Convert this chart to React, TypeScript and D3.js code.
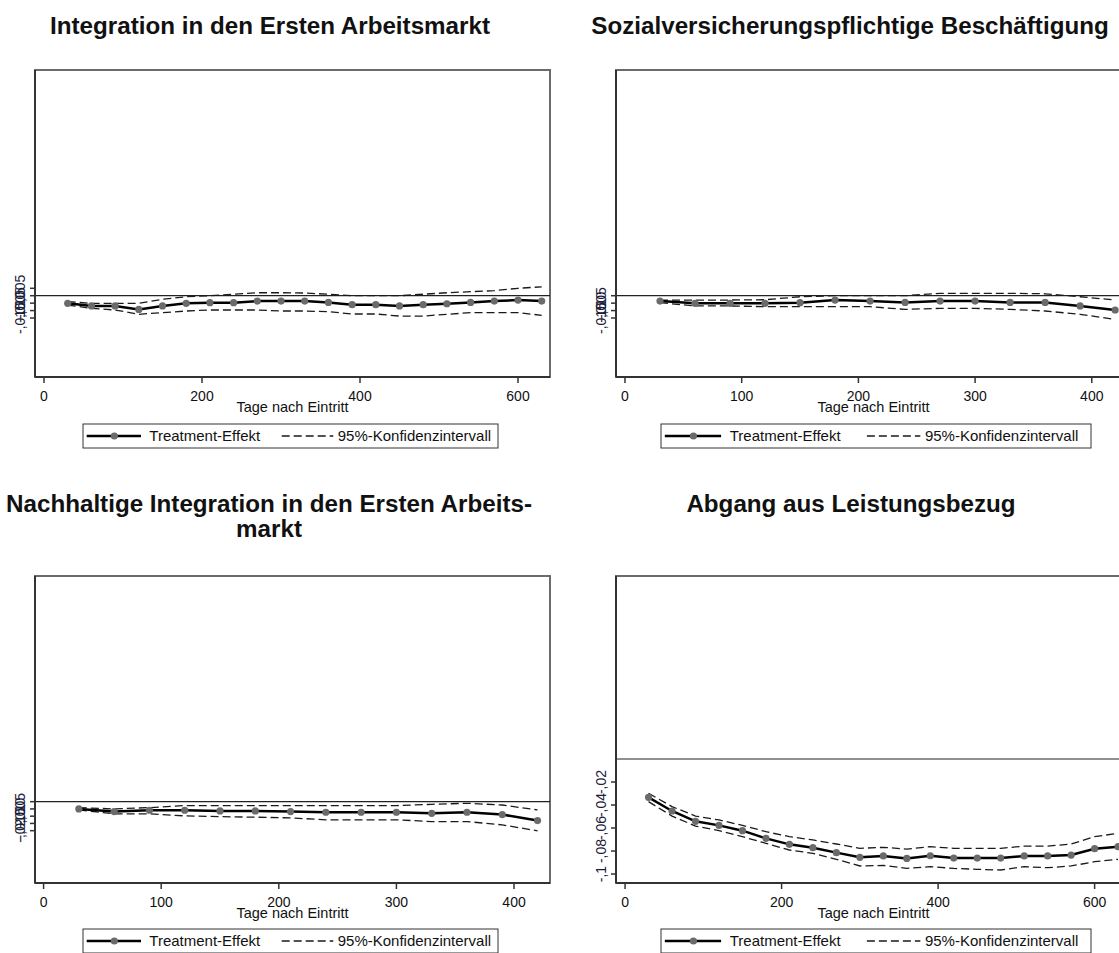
import React from "react";
import * as d3 from "d3";

// ---------- data ----------
const daysLong = [30, 60, 90, 120, 150, 180, 210, 240, 270, 300, 330, 360, 390, 420, 450, 480, 510, 540, 570, 600, 630];
const daysShort = [30, 60, 90, 120, 150, 180, 210, 240, 270, 300, 330, 360, 390, 420];

// Panel 1: Integration in den Ersten Arbeitsmarkt
const eff1 = [-0.0051, -0.0069, -0.0069, -0.0092, -0.0069, -0.0051, -0.0047, -0.0047, -0.0036, -0.0036, -0.0036, -0.0045, -0.006, -0.006, -0.0069, -0.006, -0.0054, -0.0045, -0.0036, -0.0029, -0.0036];
const hi1 = [-0.004, -0.0051, -0.0051, -0.0051, -0.0024, -0.0007, 0, 0.001, 0.002, 0.002, 0.0018, 0.001, 0, 0, 0, 0.001, 0.002, 0.0027, 0.0034, 0.005, 0.006];
const lo1 = [-0.0063, -0.0085, -0.0096, -0.0125, -0.0114, -0.0103, -0.0096, -0.0096, -0.0096, -0.0103, -0.0103, -0.0107, -0.0123, -0.0123, -0.0137, -0.0137, -0.0125, -0.0114, -0.0114, -0.0114, -0.0132];

// Panel 2: Sozialversicherungspflichtige Beschäftigung
const eff2 = [-0.0036, -0.0051, -0.0051, -0.0051, -0.0047, -0.0029, -0.0036, -0.0045, -0.0036, -0.0036, -0.0045, -0.0045, -0.0069, -0.0096];
const hi2 = [-0.0029, -0.0029, -0.0029, -0.0027, -0.0007, 0, 0, 0, 0.0016, 0.0016, 0.0016, 0.0013, -0.0007, -0.0029];
const lo2 = [-0.0047, -0.0069, -0.0069, -0.0074, -0.0074, -0.0074, -0.0074, -0.0092, -0.0085, -0.0085, -0.0092, -0.0103, -0.0125, -0.0159];

// Panel 3: Nachhaltige Integration
const eff3 = [-0.005, -0.0068, -0.0059, -0.0059, -0.0064, -0.0064, -0.0068, -0.0073, -0.0073, -0.0073, -0.008, -0.0073, -0.0089, -0.013];
const hi3 = [-0.0041, -0.005, -0.0041, -0.0027, -0.0027, -0.0027, -0.0027, -0.0027, -0.0027, -0.0027, -0.0018, -0.0011, -0.0023, -0.0057];
const lo3 = [-0.0057, -0.0084, -0.0084, -0.0098, -0.0103, -0.0107, -0.0112, -0.0125, -0.0125, -0.0125, -0.0137, -0.0137, -0.016, -0.0201];

// Panel 4: Abgang aus Leistungsbezug
const eff4 = [-0.0333, -0.0452, -0.0542, -0.0577, -0.0623, -0.069, -0.0742, -0.0771, -0.0814, -0.0855, -0.0843, -0.0864, -0.0841, -0.0861, -0.0861, -0.0861, -0.0843, -0.0843, -0.0835, -0.078, -0.0762];
const hi4 = [-0.0298, -0.0414, -0.0496, -0.053, -0.0577, -0.0632, -0.0675, -0.0704, -0.0739, -0.0777, -0.0768, -0.0783, -0.0762, -0.0777, -0.0777, -0.0777, -0.0757, -0.0757, -0.0739, -0.0675, -0.0646];
const lo4 = [-0.0371, -0.0496, -0.0583, -0.0623, -0.0675, -0.0733, -0.0791, -0.082, -0.0872, -0.093, -0.0925, -0.0951, -0.0936, -0.0951, -0.0959, -0.0965, -0.0936, -0.0945, -0.093, -0.0893, -0.0872];

const xTicksLong = [0, 200, 400, 600];
const xTicksShort = [0, 100, 200, 300, 400];
const yTicks1 = [0.005, 0, -0.005, -0.01, -0.015];
const yTicks2 = [0, -0.005, -0.01, -0.015];
const yTicks3 = [0, -0.005, -0.01, -0.015, -0.02];
const yTicks4 = [-0.02, -0.04, -0.06, -0.08, -0.1];

const titles = [
  ["Integration in den Ersten Arbeitsmarkt"],
  ["Sozialversicherungspflichtige Beschäftigung"],
  ["Nachhaltige Integration in den Ersten Arbeits-", "markt"],
  ["Abgang aus Leistungsbezug"],
];
const xTitle = "Tage nach Eintritt";
const legendLabels = ["Treatment-Effekt", "95%-Konfidenzintervall"];

// ---------- layout ----------
const FONT = "'Liberation Sans', Arial, sans-serif";
const PW = 515;
const PH = 307;

const panels = [
  { left: 35, top: 70, xDom: [-11.4, 640.5], yDom: [-0.0547, 0.1519], days: daysLong, eff: eff1, hi: hi1, lo: lo1, xTicks: xTicksLong, yTicks: yTicks1, title: titles[0], titleX: 270, titleY: 34, legX: 83, legY: 424, legW: 415 },
  { left: 616, top: 70, xDom: [-7.7, 433.6], yDom: [-0.0547, 0.1519], days: daysShort, eff: eff2, hi: hi2, lo: lo2, xTicks: xTicksShort, yTicks: yTicks2, title: titles[1], titleX: 850, titleY: 34, legX: 661, legY: 424, legW: 430 },
  { left: 35, top: 576, xDom: [-7.3, 430.6], yDom: [-0.0561, 0.1557], days: daysShort, eff: eff3, hi: hi3, lo: lo3, xTicks: xTicksShort, yTicks: yTicks3, title: titles[2], titleX: 269, titleY: 512, legX: 83, legY: 929, legW: 415 },
  { left: 616, top: 576, xDom: [-11.6, 646.5], yDom: [-0.1078, 0.1591], days: daysLong, eff: eff4, hi: hi4, lo: lo4, xTicks: xTicksLong, yTicks: yTicks4, title: titles[3], titleX: 851, titleY: 512, legX: 661, legY: 929, legW: 430 },
];

const fmtY = (v: number) => {
  if (v === 0) return "0";
  const s = String(v);
  return s.replace("0.", ".").replace(".", ",");
};

function T({ x, y, size, weight, anchor, rotate, children, fill }: any) {
  const tr = `translate(${x},${y})` + (rotate ? ` rotate(${rotate})` : "");
  return (
    <text transform={tr} fontSize={size} fontWeight={weight || "normal"} textAnchor={anchor || "start"} fontFamily={FONT} fill={fill || "#111"}>
      {children}
    </text>
  );
}

function Panel({ p }: any) {
  const x = d3.scaleLinear().domain(p.xDom).range([p.left, p.left + PW]);
  const y = d3.scaleLinear().domain(p.yDom).range([p.top + PH, p.top]);
  const pts = p.days.map((d: number, i: number) => ({ d, e: p.eff[i], h: p.hi[i], l: p.lo[i] }));
  const lineE = d3.line<any>().x((q) => x(q.d)).y((q) => y(q.e));
  const lineH = d3.line<any>().x((q) => x(q.d)).y((q) => y(q.h));
  const lineL = d3.line<any>().x((q) => x(q.d)).y((q) => y(q.l));
  const bottom = p.top + PH;
  const lx = p.legX;
  const ly = p.legY;
  const k = p.legW / 415;
  return (
    <g>
      {p.title.map((t: string, i: number) => (
        <T key={i} x={p.titleX} y={p.titleY + i * 25} size={24.2} weight="bold" anchor="middle">{t}</T>
      ))}
      <rect x={p.left} y={p.top} width={PW} height={PH} fill="white" stroke="#6b6b6b" strokeWidth={2} />
      <line x1={p.left} x2={p.left + PW} y1={y(0)} y2={y(0)} stroke="#222" strokeWidth={1.2} />
      <path d={lineH(pts) || ""} fill="none" stroke="#1a1a1a" strokeWidth={1.3} strokeDasharray="8,4" />
      <path d={lineL(pts) || ""} fill="none" stroke="#1a1a1a" strokeWidth={1.3} strokeDasharray="8,4" />
      <path d={lineE(pts) || ""} fill="none" stroke="#000" strokeWidth={2.5} />
      {pts.map((q: any, i: number) => (
        <circle key={i} cx={x(q.d)} cy={y(q.e)} r={3.6} fill="#6b6b6b" />
      ))}
      <line x1={p.left} x2={p.left} y1={p.top} y2={bottom} stroke="#333" strokeWidth={2} />
      <line x1={p.left} x2={p.left + PW} y1={bottom} y2={bottom} stroke="#333" strokeWidth={2} />
      {p.xTicks.map((t: number) => (
        <g key={"x" + t}>
          <line x1={x(t)} x2={x(t)} y1={bottom} y2={bottom + 6} stroke="#333" strokeWidth={1.5} />
          <T x={x(t)} y={bottom + 24} size={14} anchor="middle">{String(t)}</T>
        </g>
      ))}
      <T x={p.left + PW / 2} y={bottom + 35} size={14.5} anchor="middle">{xTitle}</T>
      {p.yTicks.map((t: number) => (
        <g key={"y" + t}>
          <line x1={p.left - 5} x2={p.left} y1={y(t)} y2={y(t)} stroke="#333" strokeWidth={1.5} />
          <T x={p.left - 10} y={y(t)} size={14} anchor="middle" rotate={-90} fill="#1b1b3a">{fmtY(t)}</T>
        </g>
      ))}
      <rect x={lx} y={ly} width={p.legW} height={24} fill="white" stroke="#333" strokeWidth={1} />
      <line x1={lx + 3.7 * k} x2={lx + 58 * k} y1={ly + 12} y2={ly + 12} stroke="#000" strokeWidth={2.5} />
      <circle cx={lx + 31.3 * k} cy={ly + 12} r={3.6} fill="#6b6b6b" />
      <T x={lx + 66.3 * k} y={ly + 17} size={15}>{legendLabels[0]}</T>
      <line x1={lx + 198.7 * k} x2={lx + 250.3 * k} y1={ly + 12} y2={ly + 12} stroke="#1a1a1a" strokeWidth={1.3} strokeDasharray="8,4" />
      <T x={lx + 254.7 * k} y={ly + 17} size={15}>{legendLabels[1]}</T>
    </g>
  );
}

export default function App() {
  return (
    <svg width={1119} height={953} style={{ position: "absolute", left: 0, top: 0, background: "white" }}>
      <rect x={0} y={0} width={1119} height={953} fill="white" />
      {panels.map((p, i) => (
        <Panel key={i} p={p} />
      ))}
    </svg>
  );
}
